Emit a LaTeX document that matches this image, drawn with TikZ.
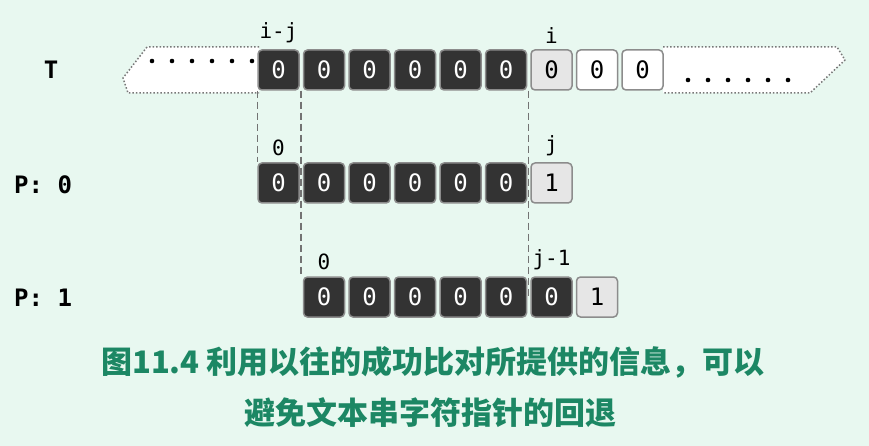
\documentclass[tikz,border=0pt]{standalone}
\usepackage{fontspec}
\setmonofont{DejaVu Sans Mono}
\newfontfamily\cjk{Noto Sans CJK SC}
\usetikzlibrary{positioning}
\definecolor{bgMint}{RGB}{232,248,240}
\definecolor{cellDark}{RGB}{51,51,51}
\definecolor{cellLight}{RGB}{230,230,230}
\definecolor{cellEdge}{RGB}{140,140,140}
\definecolor{dotEdge}{RGB}{120,120,120}
\definecolor{captionGreen}{RGB}{28,135,100}
\tikzset{
  cellNode/.style={%
    rectangle, rounded corners=4pt, minimum width=41pt, minimum height=40pt,
    draw=cellEdge, line width=1.5pt, inner sep=0pt,
    font=\fontsize{24}{24}\selectfont\ttfamily,
  },
  darkCell/.style={cellNode, fill=cellDark, text=white},
  lightCell/.style={cellNode, fill=cellLight},
  whiteCell/.style={cellNode, fill=white},
  indexLabel/.style={%
    inner sep=1pt, font=\fontsize{21}{21}\selectfont\ttfamily,
  },
  rowLabel/.style={%
    inner sep=0pt, font=\fontsize{24}{24}\selectfont\ttfamily\bfseries,
  },
  restOfText/.style={%
    draw=dotEdge, fill=white, dotted, line width=1.5pt, line join=round,
  },
  matchLine/.style={%
    draw=black!55, line width=1.5pt, dash pattern=on 7pt off 4pt,
  },
  captionText/.style={%
    inner sep=0pt, text=captionGreen,
    font=\fontsize{31}{31}\selectfont\cjk\bfseries,
  }
}

\begin{document}
\begin{tikzpicture}[x=1pt,y=-1pt]
                \fill[bgMint] (0,0) rectangle (869,446);
                \useasboundingbox (0,0) rectangle (869,446);
                % rest of the text string
                \path[restOfText] (259,47) -- (147,47) -- (123,78)
                  -- (128,93) -- (259,93);
                \path[restOfText] (663,47) -- (837,47) -- (845,60)
                  -- (810,93) -- (663,93);
                \fill (152,61) circle (2.3) (172,61) circle (2.3)
                  (192,61) circle (2.3) (212,61) circle (2.3)
                  (232,61) circle (2.3) (252,61) circle (2.3);
                \fill (688,80) circle (2.3) (708,80) circle (2.3)
                  (728,80) circle (2.3) (748,80) circle (2.3)
                  (768,80) circle (2.3) (788,80) circle (2.3);
                % row labels
                \node[rowLabel] (labelT) at (51,70) {T};
                \node[rowLabel, anchor=west] (labelP0) at (14,185) {P: 0};
                \node[rowLabel, anchor=west] (labelP1) at (14,298) {P: 1};
                % text T
                \node[darkCell] (t1) at (278.5,70) {0};
                \node[darkCell] (t2) at (324,70) {0};
                \node[darkCell] (t3) at (369.5,70) {0};
                \node[darkCell] (t4) at (415,70) {0};
                \node[darkCell] (t5) at (460.5,70) {0};
                \node[darkCell] (t6) at (506,70) {0};
                \node[lightCell] (t7) at (551.5,70) {0};
                \node[whiteCell] (t8) at (597,70) {0};
                \node[whiteCell] (t9) at (642.5,70) {0};
                % pattern, first try
                \node[darkCell] (p1) at (278.5,183) {0};
                \node[darkCell] (p2) at (324,183) {0};
                \node[darkCell] (p3) at (369.5,183) {0};
                \node[darkCell] (p4) at (415,183) {0};
                \node[darkCell] (p5) at (460.5,183) {0};
                \node[darkCell] (p6) at (506,183) {0};
                \node[lightCell] (p7) at (551.5,183) {1};
                % pattern, moved by one
                \node[darkCell] (q1) at (324,297) {0};
                \node[darkCell] (q2) at (369.5,297) {0};
                \node[darkCell] (q3) at (415,297) {0};
                \node[darkCell] (q4) at (460.5,297) {0};
                \node[darkCell] (q5) at (506,297) {0};
                \node[darkCell] (q6) at (551.5,297) {0};
                \node[lightCell] (q7) at (597,297) {1};
                % indices
                \node[indexLabel, above=5pt of t1] (idxIJ) {i-j};
                \node[indexLabel, above=5pt of t7] (idxI) {i};
                \node[indexLabel, above=5pt of p1] (idxP0) {0};
                \node[indexLabel, above=5pt of p7] (idxJ) {j};
                \node[indexLabel, above=5pt of q1] (idxQ0) {0};
                \node[indexLabel, above=5pt of q6] (idxJm) {j-1};
                % alignment lines
                \draw[matchLine] (t1.south west) -- (p1.north west);
                \draw[matchLine] ([xshift=-2pt]t2.south west)
                  -- ([xshift=-2pt]q1.north west);
                \draw[matchLine] ([xshift=-2pt]t7.south west)
                  -- ([xshift=-2pt,yshift=-22pt]q6.north west);
                % caption
                \node[captionText] (caption1) at (433,362)
                  {图11.4 利用以往的成功比对所提供的信息，可以};
                \node[captionText] (caption2) at (430,413)
                  {避免文本串字符指针的回退};
              \end{tikzpicture}
\end{document}
